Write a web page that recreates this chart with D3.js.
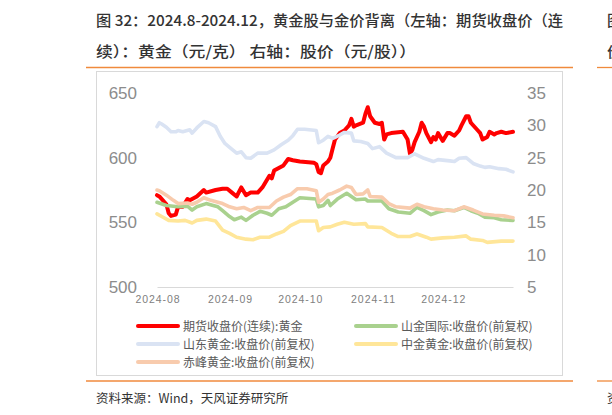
<!DOCTYPE html>
<html>
<head>
<meta charset="utf-8">
<script src="https://cdn.jsdelivr.net/npm/d3@7"></script>
<style>
  body { margin: 0; background: #fff; }
  svg { display: block; }
</style>
</head>
<body>
<svg id="chart" width="612" height="415"></svg>
<script>
// 期货收盘价(连续):黄金  (left axis, 元/克)
var futDates = ["2024-08-01","2024-08-02","2024-08-05","2024-08-06","2024-08-07","2024-08-09","2024-08-10","2024-08-12","2024-08-14","2024-08-15","2024-08-18","2024-08-21","2024-08-22","2024-08-26","2024-08-29","2024-08-31","2024-09-02","2024-09-04","2024-09-06","2024-09-08","2024-09-10","2024-09-13","2024-09-15","2024-09-18","2024-09-19","2024-09-20","2024-09-23","2024-09-24","2024-09-26","2024-09-28","2024-10-01","2024-10-07","2024-10-08","2024-10-09","2024-10-10","2024-10-11","2024-10-13","2024-10-14","2024-10-15","2024-10-16","2024-10-18","2024-10-20","2024-10-22","2024-10-23","2024-10-24","2024-10-25","2024-10-28","2024-10-29","2024-10-30","2024-10-31","2024-11-02","2024-11-04","2024-11-05","2024-11-06","2024-11-07","2024-11-09","2024-11-14","2024-11-16","2024-11-17","2024-11-18","2024-11-19","2024-11-21","2024-11-22","2024-11-23","2024-11-24","2024-11-26","2024-11-27","2024-11-28","2024-11-29","2024-11-30","2024-12-01","2024-12-03","2024-12-04","2024-12-06","2024-12-08","2024-12-09","2024-12-11","2024-12-12","2024-12-13","2024-12-16","2024-12-17","2024-12-18","2024-12-20","2024-12-21","2024-12-23","2024-12-24","2024-12-26","2024-12-28","2024-12-31"];
var futClose = [571,570,564,557,555,556,562,562,568,567,570,575,573,575,576,576,573,570,577,571,573,573,577,586,584,590,593,594,599,598,597,596,595,589,588,594,597,600,607,614,619,621,625,630,624,625,627,634,639,632,627,626,627,614,618,619,620,614,603,606,612,620,627,624,619,612,616,614,619,616,613,619,619,617,621,625,632,632,627,621,619,614,616,620,618,619,620,619,620];

// 山金国际:收盘价(前复权)  (right axis, 元/股)
var sjDates = ["2024-08-01","2024-08-05","2024-08-10","2024-08-14","2024-08-16","2024-08-18","2024-08-22","2024-08-25","2024-08-27","2024-08-29","2024-09-01","2024-09-03","2024-09-06","2024-09-08","2024-09-11","2024-09-14","2024-09-17","2024-09-19","2024-09-22","2024-09-25","2024-09-28","2024-10-01","2024-10-08","2024-10-09","2024-10-11","2024-10-13","2024-10-14","2024-10-17","2024-10-21","2024-10-25","2024-10-29","2024-10-30","2024-11-05","2024-11-08","2024-11-12","2024-11-17","2024-11-20","2024-11-23","2024-11-26","2024-11-29","2024-12-03","2024-12-06","2024-12-10","2024-12-13","2024-12-16","2024-12-19","2024-12-23","2024-12-26","2024-12-31"];
var sjClose = [18.1,17.6,17.4,17.5,16.9,17.4,17.9,17.6,17.4,16.8,15.9,15.4,15.8,15.3,16.1,16.7,16.4,16.1,17.1,17.4,18.1,18.8,18.6,17.4,17.6,18.4,17.6,18.6,19.5,18.5,18.6,18.3,18.3,17.1,16.6,16.4,17.3,16.8,16.2,16.6,16.9,16.8,17.3,16.8,16.4,15.8,15.7,15.4,15.3];

// 山东黄金:收盘价(前复权)
var sdDates = ["2024-08-01","2024-08-02","2024-08-03","2024-08-05","2024-08-07","2024-08-09","2024-08-10","2024-08-12","2024-08-15","2024-08-16","2024-08-18","2024-08-21","2024-08-23","2024-08-26","2024-08-28","2024-08-30","2024-09-01","2024-09-04","2024-09-06","2024-09-08","2024-09-10","2024-09-13","2024-09-17","2024-09-20","2024-09-23","2024-09-26","2024-09-28","2024-09-30","2024-10-03","2024-10-08","2024-10-09","2024-10-11","2024-10-13","2024-10-15","2024-10-18","2024-10-20","2024-10-23","2024-10-24","2024-10-27","2024-10-30","2024-11-01","2024-11-04","2024-11-07","2024-11-11","2024-11-16","2024-11-19","2024-11-23","2024-11-27","2024-11-29","2024-12-04","2024-12-06","2024-12-08","2024-12-11","2024-12-14","2024-12-17","2024-12-19","2024-12-21","2024-12-25","2024-12-28","2024-12-31"];
var sdClose = [29.8,30.4,30.2,29.7,29.0,29.0,29.2,29.0,29.3,28.8,29.6,30.6,30.4,29.8,28.3,27.2,26.6,25.7,25.9,25.0,24.9,25.7,25.7,26.2,27.0,27.7,28.4,29.4,29.4,29.2,27.3,27.7,28.3,28.0,28.5,28.9,28.8,27.6,27.5,27.2,26.4,26.7,25.7,25.0,25.0,25.6,24.9,24.4,24.7,24.5,24.4,24.9,25.0,24.1,23.7,23.5,23.6,23.3,23.2,22.8];

// 中金黄金:收盘价(前复权)
var zjDates = ["2024-08-01","2024-08-03","2024-08-06","2024-08-10","2024-08-13","2024-08-16","2024-08-18","2024-08-22","2024-08-26","2024-08-29","2024-09-01","2024-09-04","2024-09-08","2024-09-11","2024-09-14","2024-09-18","2024-09-21","2024-09-24","2024-09-27","2024-10-01","2024-10-08","2024-10-09","2024-10-11","2024-10-14","2024-10-17","2024-10-20","2024-10-24","2024-10-29","2024-10-30","2024-11-05","2024-11-09","2024-11-12","2024-11-17","2024-11-20","2024-11-24","2024-11-26","2024-12-01","2024-12-06","2024-12-11","2024-12-13","2024-12-18","2024-12-20","2024-12-26","2024-12-31"];
var zjClose = [16.3,15.9,15.3,15.2,15.3,14.9,15.3,15.5,15.2,13.8,13.3,12.7,12.4,12.3,12.7,12.7,13.2,13.6,14.5,15.2,15.2,13.7,14.2,14.3,14.7,15.0,14.7,14.8,14.3,14.2,13.3,12.8,12.8,13.2,12.7,12.4,12.6,12.7,12.9,12.4,12.2,11.9,12.1,12.1];

// 赤峰黄金:收盘价(前复权)
var cfDates = ["2024-08-01","2024-08-02","2024-08-05","2024-08-08","2024-08-10","2024-08-14","2024-08-16","2024-08-18","2024-08-21","2024-08-24","2024-08-27","2024-08-29","2024-09-01","2024-09-04","2024-09-07","2024-09-10","2024-09-13","2024-09-18","2024-09-21","2024-09-24","2024-09-27","2024-09-30","2024-10-04","2024-10-08","2024-10-09","2024-10-11","2024-10-13","2024-10-15","2024-10-18","2024-10-21","2024-10-23","2024-10-25","2024-10-28","2024-10-30","2024-10-31","2024-11-05","2024-11-08","2024-11-11","2024-11-17","2024-11-20","2024-11-23","2024-11-27","2024-12-01","2024-12-06","2024-12-10","2024-12-14","2024-12-18","2024-12-23","2024-12-27","2024-12-31"];
var cfClose = [20.0,19.9,19.2,18.4,17.9,18.0,17.8,18.1,18.8,18.4,18.1,17.9,17.4,17.1,17.3,16.8,17.3,17.3,18.3,18.9,19.3,20.2,20.2,19.9,18.1,18.6,19.3,19.5,20.0,20.6,20.4,19.3,19.4,20.0,19.0,18.9,17.9,17.4,17.2,17.8,17.4,17.1,16.9,16.8,17.4,16.9,16.3,16.1,16.0,15.7];

var leftTicks = [500, 550, 600, 650];
var rightTicks = [5, 10, 15, 20, 25, 30, 35];

var parseDate = d3.utcParse("%Y-%m-%d");

function zipSeries(dates, values) {
  var out = [];
  for (var i = 0; i < Math.min(dates.length, values.length); i++) {
    out.push({ date: parseDate(dates[i]), value: values[i] });
  }
  return out;
}

// legend order follows the chart (row by row, two columns)
var series = [
  { name: "期货收盘价(连续):黄金", axis: "left", color: "#ff0000", width: 4, data: zipSeries(futDates, futClose) },
  { name: "山金国际:收盘价(前复权)", axis: "right", color: "#a9d18e", width: 3.6, data: zipSeries(sjDates, sjClose) },
  { name: "山东黄金:收盘价(前复权)", axis: "right", color: "#dae3f3", width: 3.6, data: zipSeries(sdDates, sdClose) },
  { name: "中金黄金:收盘价(前复权)", axis: "right", color: "#ffe699", width: 3.6, data: zipSeries(zjDates, zjClose) },
  { name: "赤峰黄金:收盘价(前复权)", axis: "right", color: "#f8cbad", width: 3.6, data: zipSeries(cfDates, cfClose) }
];

var svg = d3.select("#chart");
var cjk = "'Noto Sans CJK SC', 'Noto Sans', sans-serif";

// title + separators
svg.append("text")
  .attr("x", 96).attr("y", 26)
  .attr("font-family", cjk).attr("font-size", 15).attr("font-weight", 500)
  .attr("fill", "#333")
  .attr("textLength", 467).attr("lengthAdjust", "spacingAndGlyphs")
  .text("图 32：2024.8-2024.12，黄金股与金价背离（左轴：期货收盘价（连");
svg.append("text")
  .attr("x", 96).attr("y", 57)
  .attr("font-family", cjk).attr("font-size", 15).attr("font-weight", 500)
  .attr("fill", "#333")
  .attr("textLength", 320).attr("lengthAdjust", "spacingAndGlyphs")
  .text("续）：黄金（元/克） 右轴：股价（元/股））");

// bits of the neighbouring figure at the right edge
svg.append("text").attr("x", 607).attr("y", 26)
  .attr("font-family", cjk).attr("font-size", 15).attr("font-weight", 500).attr("fill", "#333").text("图");
svg.append("text").attr("x", 607).attr("y", 57)
  .attr("font-family", cjk).attr("font-size", 15).attr("font-weight", 500).attr("fill", "#333").text("价");
svg.append("text").attr("x", 607).attr("y", 403)
  .attr("font-family", cjk).attr("font-size", 12.5).attr("fill", "#333").text("资");

[67.5, 381].forEach(function(y) {
  svg.append("line").attr("x1", 86).attr("x2", 573).attr("y1", y).attr("y2", y)
    .attr("stroke", "#f08a3c").attr("stroke-width", 1.3);
  svg.append("line").attr("x1", 597).attr("x2", 612).attr("y1", y).attr("y2", y)
    .attr("stroke", "#f08a3c").attr("stroke-width", 1.3);
});

// chart frame
svg.append("rect")
  .attr("x", 96.5).attr("y", 71.5).attr("width", 466).attr("height", 304)
  .attr("fill", "#fff").attr("stroke", "#d9d9d9").attr("stroke-width", 1);

var x = d3.scaleUtc()
  .domain([parseDate("2024-08-01"), parseDate("2024-12-31")])
  .range([157, 513]);
var yLeft = d3.scaleLinear().domain([500, 650]).range([287, 93]);
var yRight = d3.scaleLinear().domain([5, 35]).range([287, 93]);

// x axis
var xAxis = svg.append("g")
  .attr("transform", "translate(0,287)")
  .call(d3.axisBottom(x)
    .tickValues(d3.utcMonth.range(parseDate("2024-08-01"), parseDate("2024-12-31")))
    .tickFormat(d3.utcFormat("%Y-%m"))
    .tickSize(0).tickPadding(9));
xAxis.select(".domain").attr("stroke", "#d9d9d9").attr("stroke-width", 1);
xAxis.selectAll("text")
  .attr("font-family", "'Liberation Sans', sans-serif").attr("font-size", 10.5)
  .attr("fill", "#808080")
  .attr("textLength", 44).attr("lengthAdjust", "spacing");

// left axis
var yAxisL = svg.append("g")
  .attr("transform", "translate(157,0)")
  .call(d3.axisLeft(yLeft).tickValues(leftTicks).tickSize(0).tickPadding(20));
yAxisL.select(".domain").remove();
yAxisL.selectAll("text")
  .attr("font-family", "'Liberation Sans', sans-serif").attr("font-size", 17)
  .attr("fill", "#8c8c8c");

// right axis
var yAxisR = svg.append("g")
  .attr("transform", "translate(513,0)")
  .call(d3.axisRight(yRight).tickValues(rightTicks).tickSize(0).tickPadding(14));
yAxisR.select(".domain").remove();
yAxisR.selectAll("text")
  .attr("font-family", "'Liberation Sans', sans-serif").attr("font-size", 17)
  .attr("fill", "#8c8c8c");

// lines
series.forEach(function(s) {
  var yScale = s.axis == "left" ? yLeft : yRight;
  var line = d3.line()
    .x(function(d) { return x(d.date); })
    .y(function(d) { return yScale(d.value); });
  svg.append("path")
    .datum(s.data)
    .attr("d", line)
    .attr("fill", "none")
    .attr("stroke", s.color)
    .attr("stroke-width", s.width)
    .attr("stroke-linejoin", "round")
    .attr("stroke-linecap", "round");
});

// legend, two columns
var legend = svg.append("g");
series.forEach(function(s, i) {
  var col = i % 2, row = Math.floor(i / 2);
  var lx = col == 0 ? 138 : 356;
  var ly = 326 + row * 18;
  legend.append("line")
    .attr("x1", lx).attr("x2", lx + 40).attr("y1", ly).attr("y2", ly)
    .attr("stroke", s.color).attr("stroke-width", 4).attr("stroke-linecap", "round");
  legend.append("text")
    .attr("x", lx + 45).attr("y", ly + 4.5)
    .attr("font-family", cjk).attr("font-size", 12)
    .attr("fill", "#595959")
    .text(s.name);
});

// source
svg.append("text")
  .attr("x", 96).attr("y", 403)
  .attr("font-family", cjk).attr("font-size", 12.5)
  .attr("fill", "#333")
  .text("资料来源：Wind，天风证券研究所");
</script>
</body>
</html>
